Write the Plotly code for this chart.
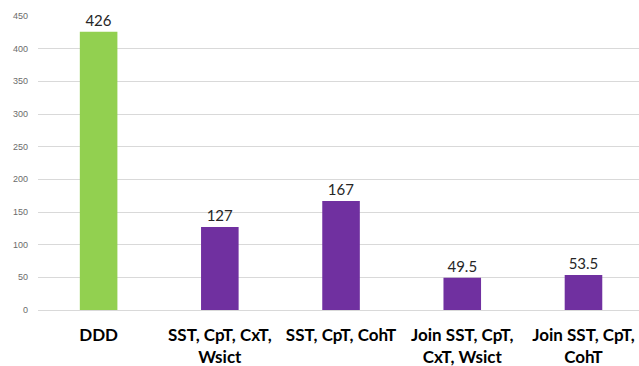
import plotly.graph_objects as go

categories = ["DDD", "SST, CpT, CxT,<br>Wsict", "SST, CpT, CohT",
              "Join SST, CpT,<br>CxT, Wsict", "Join SST, CpT,<br>CohT"]
values = [426, 127, 167, 49.5, 53.5]
bar_colors = ["#92D050", "#7030A0", "#7030A0", "#7030A0", "#7030A0"]
y_ticks = [0, 50, 100, 150, 200, 250, 300, 350, 400, 450]

fig = go.Figure(go.Bar(
    x=list(range(len(categories))),
    y=values,
    marker=dict(color=bar_colors, line=dict(width=0)),
    width=0.31,
    text=[f"{v:g}" for v in values],
    textposition="outside",
    textfont=dict(family="Lato, Open Sans, sans-serif", size=15, color="#262626"),
    cliponaxis=False,
))

fig.update_layout(
    width=639, height=366,
    margin=dict(l=38, r=0, t=16, b=56),
    plot_bgcolor="white", paper_bgcolor="white",
    showlegend=False,
    xaxis=dict(
        tickmode="array",
        tickvals=list(range(len(categories))),
        ticktext=[f"<b>{c}</b>" for c in categories],
        range=[-0.5, 4.458],
        showgrid=False, zeroline=False, showline=False, ticks="",
        tickfont=dict(family="Lato, Open Sans, sans-serif", size=17, color="#000000"),
        ticklabelstandoff=13,
    ),
    yaxis=dict(
        range=[0, 450],
        tickvals=y_ticks,
        showgrid=True, gridcolor="#D9D9D9", gridwidth=1,
        zeroline=True, zerolinecolor="#D9D9D9", zerolinewidth=1,
        showline=False, ticks="",
        tickfont=dict(family="Liberation Sans, Arial, sans-serif", size=9, color="#6b6b6b"),
        ticklabelstandoff=9,
    ),
)

fig.write_html("out.html")
